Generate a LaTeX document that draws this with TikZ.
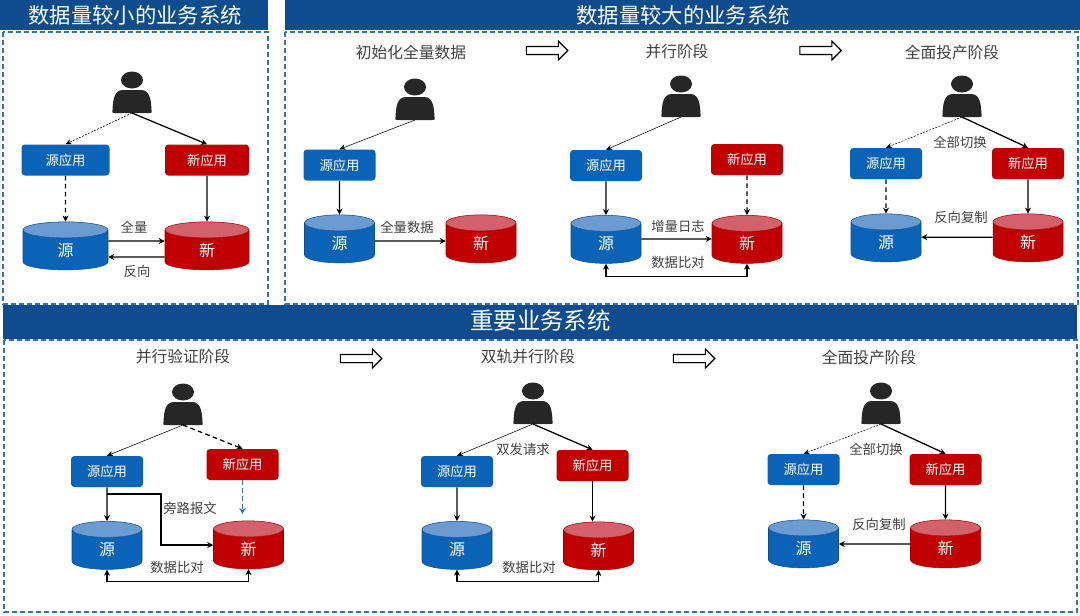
\documentclass[tikz,border=0pt]{standalone}
\usepackage{fontspec}
\setmainfont{Noto Sans CJK SC}
\usepackage{tikz}
\usetikzlibrary{calc, arrows.meta, shapes.geometric, shapes.arrows, shadows}
\definecolor{headblue}{HTML}{0E4C8E}
\definecolor{dashblue}{HTML}{2E75B6}
\definecolor{srcblue}{HTML}{0B63B8}
\definecolor{srctop}{HTML}{6C9BD2}
\definecolor{srcedge}{HTML}{0A4F96}
\definecolor{newred}{HTML}{C00000}
\definecolor{newtop}{HTML}{D2616B}
\definecolor{newedge}{HTML}{A80000}
\definecolor{labelgray}{HTML}{404040}
\definecolor{persongray}{HTML}{262626}
\tikzset{
    headbar/.style={fill=headblue, text=white, inner sep=0pt, minimum height=22.5pt, font=\fontsize{16}{16}\selectfont},
    headtext/.style={text=white, inner sep=0pt, font=\fontsize{16}{16}\selectfont},
    panelbox/.style={draw=dashblue, line width=0.8pt, dash pattern=on 4pt off 2pt},
    stagetitle/.style={text=labelgray, inner sep=0pt, font=\fontsize{11.8}{12}\selectfont},
    smalllabel/.style={text=labelgray, inner sep=0pt, font=\fontsize{10}{10}\selectfont},
    appbox/.style={rectangle, rounded corners=2.5pt, text=white, inner sep=0pt, minimum width=54pt, minimum height=23.25pt, font=\fontsize{10}{10}\selectfont},
    srcapp/.style={appbox, fill=srcblue},
    newapp/.style={appbox, fill=newred},
    dbcyl/.style={cylinder, shape border rotate=90, shape aspect=1, cylinder uses custom fill, text=white, inner sep=0pt, minimum width=52.5pt, minimum height=36pt, font=\fontsize{12}{12}\selectfont},
    srcdb/.style={dbcyl, draw=srcedge, cylinder body fill=srcblue, cylinder end fill=srctop},
    newdb/.style={dbcyl, draw=newedge, cylinder body fill=newred, cylinder end fill=newtop},
    blockarr/.style={single arrow, draw=black, fill=white, line width=0.9pt, inner xsep=0pt, inner ysep=1.5pt, minimum width=14pt, minimum height=31pt, single arrow head extend=2.5pt, single arrow head indent=0pt, drop shadow={shadow xshift=0.6pt, shadow yshift=-0.6pt, fill=black!40}},
    linkthin/.style={-{Stealth[length=4.5pt, width=4pt]}, black, line width=0.4pt},
    linkbold/.style={-{Stealth[length=4.5pt, width=4.5pt]}, black, line width=0.95pt},
    linkdash/.style={-{Stealth[length=4.5pt, width=4pt]}, black, line width=0.4pt, dash pattern=on 1.5pt off 1pt},
    linkdashb/.style={-{Stealth[length=4.5pt, width=4.5pt]}, black, line width=0.95pt, dash pattern=on 3.5pt off 2.5pt},
    linkblue/.style={-{Stealth[length=4.5pt, width=5pt]}, dashblue, line width=0.95pt, dash pattern=on 3.5pt off 2.5pt},
    linkboth/.style={{Stealth[length=4.5pt, width=4.5pt]}-{Stealth[length=4.5pt, width=4.5pt]}, black, line width=0.95pt},
    pics/person/.style={code={
        \coordinate (-foot) at (0,0);
        \fill[persongray] (0,-33) ellipse (11 and 8.5);
        \fill[persongray] (-19.5,-3) .. controls (-19,-13) and (-18,-23) .. (-9,-23) -- (9,-23) .. controls (18,-23) and (19,-13) .. (19.5,-3) .. controls (20,0) .. (17,0) -- (-17,0) .. controls (-20,0) .. (-19.5,-3) -- cycle;
    }}
}
\begin{document}
\begin{tikzpicture}[x=0.75pt, y=-0.75pt]
                \useasboundingbox (0,0) rectangle (1080,615);
                \draw[panelbox] (3,32) rectangle (268,304);
                \draw[panelbox] (285,32) rectangle (1078,304);
                \draw[panelbox] (4,340) rectangle (1077,612);
                \node[headbar, minimum width=201pt] (H1) at (134,15) {};
                \node[headtext] (H1t) at (135,15) {数据量较小的业务系统};
                \node[headbar, minimum width=596.25pt] (H2) at (682.5,15) {};
                \node[headtext] (H2t) at (683,15) {数据量较大的业务系统};
                \node[headbar, minimum width=805.5pt, minimum height=25.5pt] (H3) at (540,322) {};
                \node[headtext, font=\fontsize{17.6}{18}\selectfont] (H3t) at (540.5,321) {重要业务系统};

                \pic (U1) at (132,113) {person};
                \node[srcapp, minimum width=66pt] (SA1) at (65.5,160) {源应用};
                \node[newapp, minimum width=63pt] (NA1) at (207,160) {新应用};
                \node[srcdb, minimum width=63.75pt] (SD1) at (65.5,250) {源};
                \node[newdb, minimum width=63pt] (ND1) at (207,250) {新};
                \draw[linkdash] (U1-foot) -- (SA1.north);
                \draw[linkbold] (U1-foot) -- (NA1.north);
                \draw[linkdashb] (SA1.south) -- (SD1.north);
                \draw[linkbold] (NA1.south) -- (ND1.north);
                \draw[linkbold] ([yshift=6.75pt]SD1.east) -- ([yshift=6.75pt]ND1.west);
                \draw[linkbold] ([yshift=-5.25pt]ND1.west) -- ([yshift=-5.25pt]SD1.east);
                \node[smalllabel] (L1) at (134,227) {全量};
                \node[smalllabel] (L2) at (137,271) {反向};

                \node[stagetitle] (T1) at (411,52) {初始化全量数据};
                \node[stagetitle] (T2) at (677,52) {并行阶段};
                \node[stagetitle] (T3) at (952,52) {全面投产阶段};
                \node[blockarr] (B1) at (545,50.5) {};
                \node[blockarr] (B2) at (818.5,50.5) {};

                \pic (U2) at (415,120) {person};
                \node[srcapp] (SA2) at (339.5,165) {源应用};
                \node[srcdb] (SD2) at (339.5,243) {源};
                \node[newdb] (ND2) at (481,243) {新};
                \draw[linkthin] (U2-foot) -- (SA2.north);
                \draw[linkbold] (SA2.south) -- (SD2.north);
                \draw[linkbold] ([yshift=1.5pt]SD2.east) -- ([yshift=1.5pt]ND2.west);
                \node[smalllabel] (L3) at (407,227) {全量数据};

                \pic (U3) at (681,117) {person};
                \node[srcapp] (SA3) at (606,165.5) {源应用};
                \node[newapp] (NA3) at (747,159.5) {新应用};
                \node[srcdb] (SD3) at (606,243.5) {源};
                \node[newdb] (ND3) at (747,243.5) {新};
                \draw[linkthin] (U3-foot) -- (SA3.north);
                \draw[linkbold] (SA3.south) -- (SD3.north);
                \draw[linkdashb] (NA3.south) -- (ND3.north);
                \draw[linkbold] ([yshift=3.4pt]SD3.east) -- ([yshift=3.4pt]ND3.west);
                \draw[linkboth] (SD3.south) -- ++(0,13) -| (ND3.south);
                \node[smalllabel] (L4) at (678,226) {增量日志};
                \node[smalllabel] (L5) at (678,262) {数据比对};

                \pic (U4) at (962,117) {person};
                \node[srcapp] (SA4) at (886,163.5) {源应用};
                \node[newapp] (NA4) at (1028,163.5) {新应用};
                \node[srcdb] (SD4) at (886,242) {源};
                \node[newdb] (ND4) at (1028,242) {新};
                \draw[linkdash] (U4-foot) -- (SA4.north);
                \draw[linkbold] (U4-foot) -- (NA4.north);
                \draw[linkdashb] (SA4.south) -- (SD4.north);
                \draw[linkbold] (NA4.south) -- (ND4.north);
                \draw[linkbold] ([yshift=3.6pt]ND4.west) -- ([yshift=3.6pt]SD4.east);
                \node[smalllabel] (L6) at (960,142) {全部切换};
                \node[smalllabel] (L7) at (961,217) {反向复制};

                \node[stagetitle] (T4) at (183,357) {并行验证阶段};
                \node[stagetitle] (T5) at (528,357) {双轨并行阶段};
                \node[stagetitle] (T6) at (869,357) {全面投产阶段};
                \node[blockarr] (B3) at (359,358.5) {};
                \node[blockarr] (B4) at (692,358.5) {};

                \pic (U5) at (183,425) {person};
                \node[srcapp] (SA5) at (107,471.5) {源应用};
                \node[newapp] (NA5) at (242.5,464.5) {新应用};
                \node[srcdb] (SD5) at (107,549.5) {源};
                \node[newdb] (ND5) at (248.5,549) {新};
                \coordinate (BP) at (107,494);
                \coordinate (BT) at (161,545);
                \coordinate (NE) at (242.5,514);
                \draw[linkthin] (U5-foot) -- (SA5.north);
                \draw[linkdashb] (U5-foot) -- (NA5.north);
                \draw[linkbold] (SA5.south) -- (SD5.north);
                \draw[linkblue] (NA5.south) -- (NE);
                \draw[linkbold] (BP) -| (BT) -- (BT -| ND5.west);
                \draw[linkboth] (SD5.south) -- ++(0,12) -| (ND5.south);
                \node[smalllabel] (L8) at (190,508) {旁路报文};
                \node[smalllabel] (L9) at (177,567) {数据比对};

                \pic (U6) at (533,424) {person};
                \node[srcapp] (SA6) at (457,471.5) {源应用};
                \node[newapp] (NA6) at (592.5,465.5) {新应用};
                \node[srcdb] (SD6) at (457,549.5) {源};
                \node[newdb] (ND6) at (598.5,550) {新};
                \draw[linkthin] (U6-foot) -- (SA6.north);
                \draw[linkbold] (U6-foot) -- (NA6.north);
                \draw[linkbold] (SA6.south) -- (SD6.north);
                \draw[linkbold] (NA6.south) -- (NA6.south |- ND6.north);
                \draw[linkboth] (SD6.south) -- ++(0,12) -| (ND6.south);
                \node[smalllabel] (L10) at (523,449) {双发请求};
                \node[smalllabel] (L11) at (529,567) {数据比对};

                \pic (U7) at (881,424) {person};
                \node[srcapp] (SA7) at (803.5,469.5) {源应用};
                \node[newapp] (NA7) at (945.5,469.5) {新应用};
                \node[srcdb] (SD7) at (803.5,548) {源};
                \node[newdb] (ND7) at (945.5,548) {新};
                \draw[linkdash] (U7-foot) -- (SA7.north);
                \draw[linkbold] (U7-foot) -- (NA7.north);
                \draw[linkdashb] (SA7.south) -- (SD7.north);
                \draw[linkbold] (NA7.south) -- (ND7.north);
                \draw[linkbold] ([yshift=3pt]ND7.west) -- ([yshift=3pt]SD7.east);
                \node[smalllabel] (L12) at (876,449) {全部切换};
                \node[smalllabel] (L13) at (879,524) {反向复制};
\end{tikzpicture}
\end{document}
